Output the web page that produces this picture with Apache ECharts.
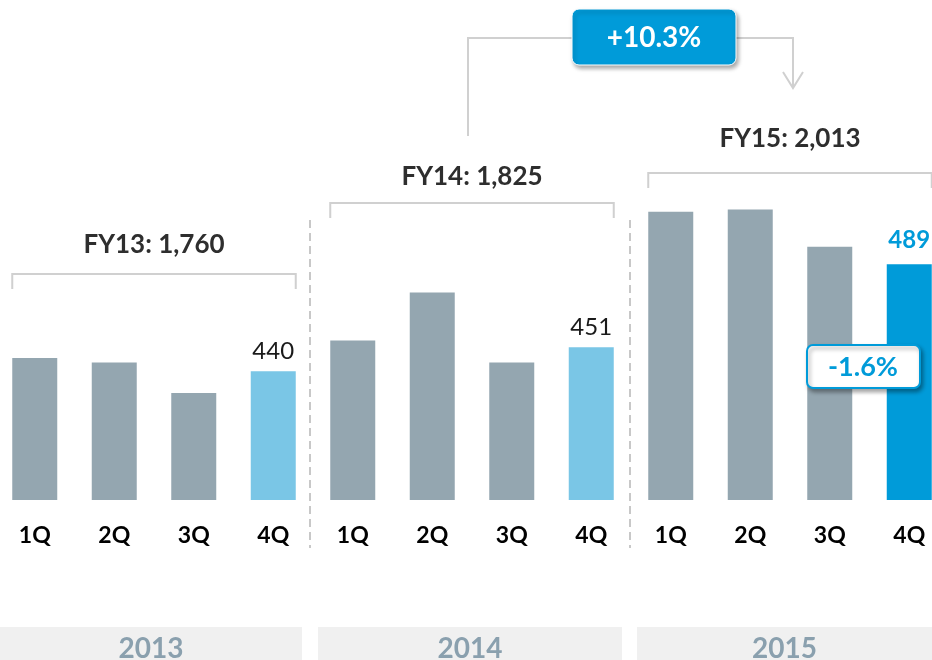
<!DOCTYPE html>
<html>
<head>
<meta charset="utf-8">
<script src="https://cdn.jsdelivr.net/npm/echarts@6/dist/echarts.min.js"></script>
<style>
  html, body { margin: 0; padding: 0; background: #fff; }
  #chart { width: 932px; height: 660px; }
</style>
</head>
<body>
<div id="chart"></div>
<script>
const years = ['2013', '2014', '2015'];
const quarters = ['1Q', '2Q', '3Q', '4Q'];
const sales2013 = [446, 444, 430, 440];
const sales2014 = [454, 476, 444, 451];
const sales2015 = [513, 514, 497, 489];
const fyLabels = ['FY13', 'FY14', 'FY15'];

const groups = [sales2013, sales2014, sales2015];
const categories = [];
years.forEach(() => quarters.forEach(q => categories.push(q)));

const font = 'Lato, "Open Sans", sans-serif';
const gray = '#94a6b0';
const lightBlue = '#7ac6e6';
const blue = '#009bd9';
const lineGray = '#d0d0d0';

const sum = arr => arr.reduce((a, b) => a + b, 0);
const fmt = n => n.toLocaleString('en-US');
const pct = (a, b) => {
  const v = (a / b - 1) * 100;
  return (v >= 0 ? '+' : '') + v.toFixed(1) + '%';
};

const barData = [];
groups.forEach((g, gi) => {
  g.forEach((v, qi) => {
    const item = {value: v, itemStyle: {color: gray}};
    if (qi === 3) {
      const last = gi === groups.length - 1;
      item.itemStyle.color = last ? blue : lightBlue;
      item.label = {
        show: true,
        position: 'top',
        distance: last ? 12 : 8,
        fontFamily: font,
        fontSize: 24,
        fontWeight: last ? 'bold' : 'normal',
        color: last ? blue : '#1a1a1a'
      };
    }
    barData.push(item);
  });
});

const chart = echarts.init(document.getElementById('chart'));

const option = {
  animation: false,
  grid: {left: -5, right: -17, top: 0, bottom: 160, outerBoundsMode: 'none'},
  xAxis: {
    type: 'category',
    data: categories,
    axisLine: {show: false},
    axisTick: {show: false},
    axisLabel: {
      margin: 24,
      fontFamily: font,
      fontSize: 23,
      fontWeight: 'bold',
      color: '#000'
    }
  },
  yAxis: {
    type: 'value',
    min: 381,
    max: 610,
    show: false,
    splitLine: {show: false}
  },
  series: [{
    type: 'bar',
    barWidth: 45,
    data: barData
  }]
};

chart.setOption(option);

// annotations, x positions taken from the category axis
const half = 22.5;
const cx = i => chart.convertToPixel({xAxisIndex: 0}, i);
const bracketY = [274, 203, 173];
const totalY = [245, 177, 139];
const graphics = [];

groups.forEach((g, gi) => {
  const x0 = cx(gi * 4) - half;
  const x1 = cx(gi * 4 + 3) + half;
  const y = bracketY[gi];
  graphics.push({
    type: 'polyline',
    shape: {points: [[x0, y + 15], [x0, y], [x1, y], [x1, y + 15]]},
    style: {stroke: lineGray, lineWidth: 2, fill: null}
  });
  graphics.push({
    type: 'text',
    style: {
      text: fyLabels[gi] + ': ' + fmt(sum(g)),
      x: (x0 + x1) / 2, y: totalY[gi],
      align: 'center', verticalAlign: 'middle',
      font: 'bold 26px ' + font, fill: '#2e2e2e'
    }
  });
});

// dashed separators
[310, 630].forEach(x => {
  graphics.push({
    type: 'line',
    shape: {x1: x, y1: 220, x2: x, y2: 548},
    style: {stroke: '#c8c8c8', lineWidth: 2, lineDash: [8, 5]}
  });
});

// year boxes
const yearBoxes = [[0, 302], [318, 622], [637, 932]];
years.forEach((yr, i) => {
  const [a, b] = yearBoxes[i];
  graphics.push({
    type: 'rect',
    shape: {x: a, y: 627, width: b - a, height: 40},
    style: {fill: '#f0f0f0'}
  });
  graphics.push({
    type: 'text',
    style: {
      text: yr, x: (a + b) / 2, y: 649,
      align: 'center', verticalAlign: 'middle',
      font: 'bold 28px ' + font, fill: '#8aa0ae'
    }
  });
});

// FY14 -> FY15 growth arrow
graphics.push({
  type: 'polyline',
  shape: {points: [[468, 136], [468, 38], [793, 38], [793, 88]]},
  style: {stroke: lineGray, lineWidth: 2, fill: null}
});
graphics.push({
  type: 'polyline',
  shape: {points: [[783, 72], [793, 88], [803, 72]]},
  style: {stroke: lineGray, lineWidth: 2, fill: null}
});
graphics.push({
  type: 'rect',
  z: 20,
  shape: {x: 572, y: 9, width: 164, height: 56, r: 7},
  style: {
    fill: blue, stroke: '#fff', lineWidth: 1,
    shadowBlur: 4, shadowOffsetX: 2, shadowOffsetY: 3, shadowColor: 'rgba(0,0,0,0.35)'
  }
});
graphics.push({
  type: 'text',
  z: 21,
  style: {
    text: pct(sum(sales2015), sum(sales2014)),
    x: 654, y: 38, align: 'center', verticalAlign: 'middle',
    font: 'bold 28px ' + font, fill: '#fff'
  }
});

// 3Q -> 4Q change
graphics.push({
  type: 'rect',
  z: 20,
  shape: {x: 807, y: 345, width: 113, height: 43, r: 6},
  style: {
    fill: '#fff', stroke: blue, lineWidth: 2,
    shadowBlur: 4, shadowOffsetX: 2, shadowOffsetY: 3, shadowColor: 'rgba(0,0,0,0.35)'
  }
});
graphics.push({
  type: 'text',
  z: 21,
  style: {
    text: pct(sales2015[3], sales2015[2]),
    x: 863, y: 367, align: 'center', verticalAlign: 'middle',
    font: 'bold 27px ' + font, fill: blue
  }
});

chart.setOption({graphic: graphics});
</script>
</body>
</html>
